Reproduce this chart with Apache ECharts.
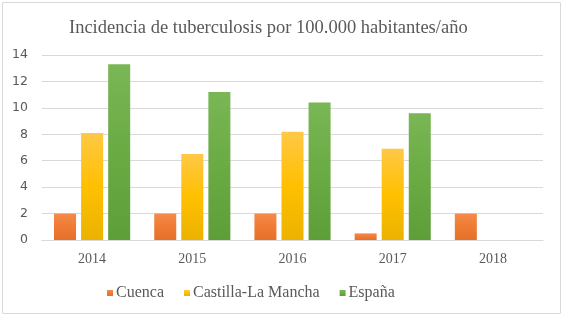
<!DOCTYPE html>
<html>
<head>
<meta charset="utf-8">
<script src="https://cdn.jsdelivr.net/npm/echarts@6/dist/echarts.min.js"></script>
<style>
  html, body { margin: 0; padding: 0; background: #fff; }
  #chart { width: 564px; height: 317px; }
</style>
</head>
<body>
<div id="chart"></div>
<script>
const years = ['2014', '2015', '2016', '2017', '2018'];
const cuenca = [2.0, 2.0, 2.0, 0.5, 2.0];
const castillaLaMancha = [8.1, 6.5, 8.2, 6.9, null];
const espana = [13.3, 11.2, 10.4, 9.6, null];

const grad = (top, mid, bottom) => new echarts.graphic.LinearGradient(0, 0, 0, 1, [
  { offset: 0, color: top },
  { offset: 0.5, color: mid },
  { offset: 1, color: bottom }
]);

const chart = echarts.init(document.getElementById('chart'));

chart.setOption({
  animation: false,
  title: {
    text: 'Incidencia de tuberculosis por 100.000 habitantes/año',
    left: 64,
    top: 14,
    textStyle: {
      fontFamily: 'Liberation Serif',
      fontWeight: 'normal',
      fontSize: 18.5,
      color: '#595959'
    }
  },
  graphic: [{
    type: 'rect',
    shape: { x: 2.5, y: 2.5, width: 558, height: 311 },
    style: { fill: 'none', stroke: '#d9d9d9', lineWidth: 1 },
    silent: true
  }],
  legend: {
    bottom: 11,
    left: 102,
    itemWidth: 6,
    itemHeight: 6,
    itemGap: 20,
    icon: 'rect',
    textStyle: {
      fontFamily: 'Liberation Serif',
      fontSize: 16,
      color: '#595959',
      padding: [0, 0, 0, -2]
    },
    data: ['Cuenca', 'Castilla-La Mancha', 'España']
  },
  grid: {
    left: 42,
    right: 21,
    top: 55,
    bottom: 77
  },
  xAxis: {
    type: 'category',
    data: years,
    axisLine: { lineStyle: { color: '#d9d9d9' } },
    axisTick: { show: false },
    axisLabel: {
      fontFamily: 'Liberation Serif',
      fontSize: 14,
      color: '#595959',
      margin: 12
    }
  },
  yAxis: {
    type: 'value',
    min: 0,
    max: 14,
    interval: 2,
    axisLine: { show: false },
    axisTick: { show: false },
    splitLine: { lineStyle: { color: '#d9d9d9' } },
    axisLabel: {
      fontFamily: 'DejaVu Sans',
      fontSize: 12.5,
      color: '#595959',
      margin: 14
    }
  },
  series: [
    {
      name: 'Cuenca',
      type: 'bar',
      data: cuenca,
      barGap: '23%',
      barCategoryGap: '24%',
      color: '#ED7D31',
      itemStyle: { color: grad('#f58a4a', '#ee7b34', '#e5702a') }
    },
    {
      name: 'Castilla-La Mancha',
      type: 'bar',
      data: castillaLaMancha,
      color: '#FFC000',
      itemStyle: { color: grad('#ffc846', '#ffc000', '#ebb200') }
    },
    {
      name: 'España',
      type: 'bar',
      data: espana,
      color: '#70AD47',
      itemStyle: { color: grad('#7ab655', '#6aab44', '#5d9e39') }
    }
  ]
});
</script>
</body>
</html>
